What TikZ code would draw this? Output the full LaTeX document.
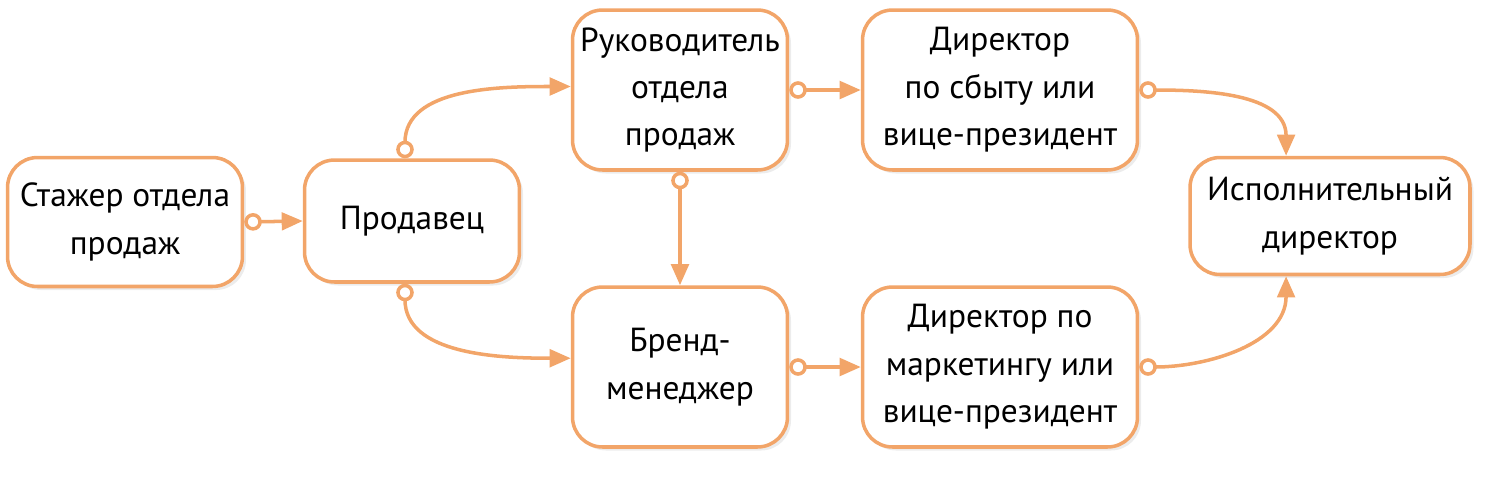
\documentclass[tikz,border=0pt]{standalone}
\usepackage{fontspec}
\setmainfont{PT Sans}
\usetikzlibrary{arrows.meta,shadows}
\definecolor{careerorange}{RGB}{242,165,105}
\tikzset{
  post/.style={draw=careerorange,line width=2pt,fill=white,rounded corners=0.6cm,
    align=center,font=\fontsize{19}{27}\selectfont,inner sep=2pt,
    drop shadow={shadow xshift=2pt,shadow yshift=-2pt,opacity=0.15}},
  link/.style={careerorange,line width=2pt,
    {Circle[open,fill=white,length=10pt,width=10pt]}-{Triangle[length=12pt,width=10pt]}}
}
\begin{document}
\begin{tikzpicture}[x=0.02cm,y=-0.02cm]
    \useasboundingbox (0,0) rectangle (1500,478);

    % Posts
    \node[post,minimum width=4.7cm,minimum height=2.58cm] (intern) at (125,222) {Стажер отдела\\продаж};
    \node[post,minimum width=4.3cm,minimum height=2.44cm] (seller) at (412,221) {Продавец};
    \node[post,minimum width=4.3cm,minimum height=3.2cm] (head) at (680,90) {Руководитель\\отдела\\продаж};
    \node[post,minimum width=4.3cm,minimum height=3.2cm] (brand) at (680,367) {Бренд-\\менеджер};
    \node[post,minimum width=5.5cm,minimum height=3.2cm] (sales) at (1000,90) {Директор\\по сбыту или\\вице-президент};
    \node[post,minimum width=5.5cm,minimum height=3.2cm] (market) at (1000,367) {Директор по\\маркетингу или\\вице-президент};
    \node[post,minimum width=5.6cm,minimum height=2.34cm] (ceo) at (1330,216) {Исполнительный\\директор};

    % Career paths
    \draw[link] (intern.east) -- (seller.west);
    \draw[link] ([xshift=-4]seller.north) to[out=90,in=180] ([yshift=2]head.west);
    \draw[link] ([xshift=-4]seller.south) to[out=-90,in=180] ([yshift=5]brand.west);
    \draw[link] (head.south) -- (brand.north);
    \draw[link] (head.east) -- (sales.west);
    \draw[link] (brand.east) -- (market.west);
    \draw[link] (sales.east) to[out=0,in=90] ([xshift=-25]ceo.north);
    \draw[link] (market.east) to[out=0,in=-90] ([xshift=-25]ceo.south);
\end{tikzpicture}
\end{document}
